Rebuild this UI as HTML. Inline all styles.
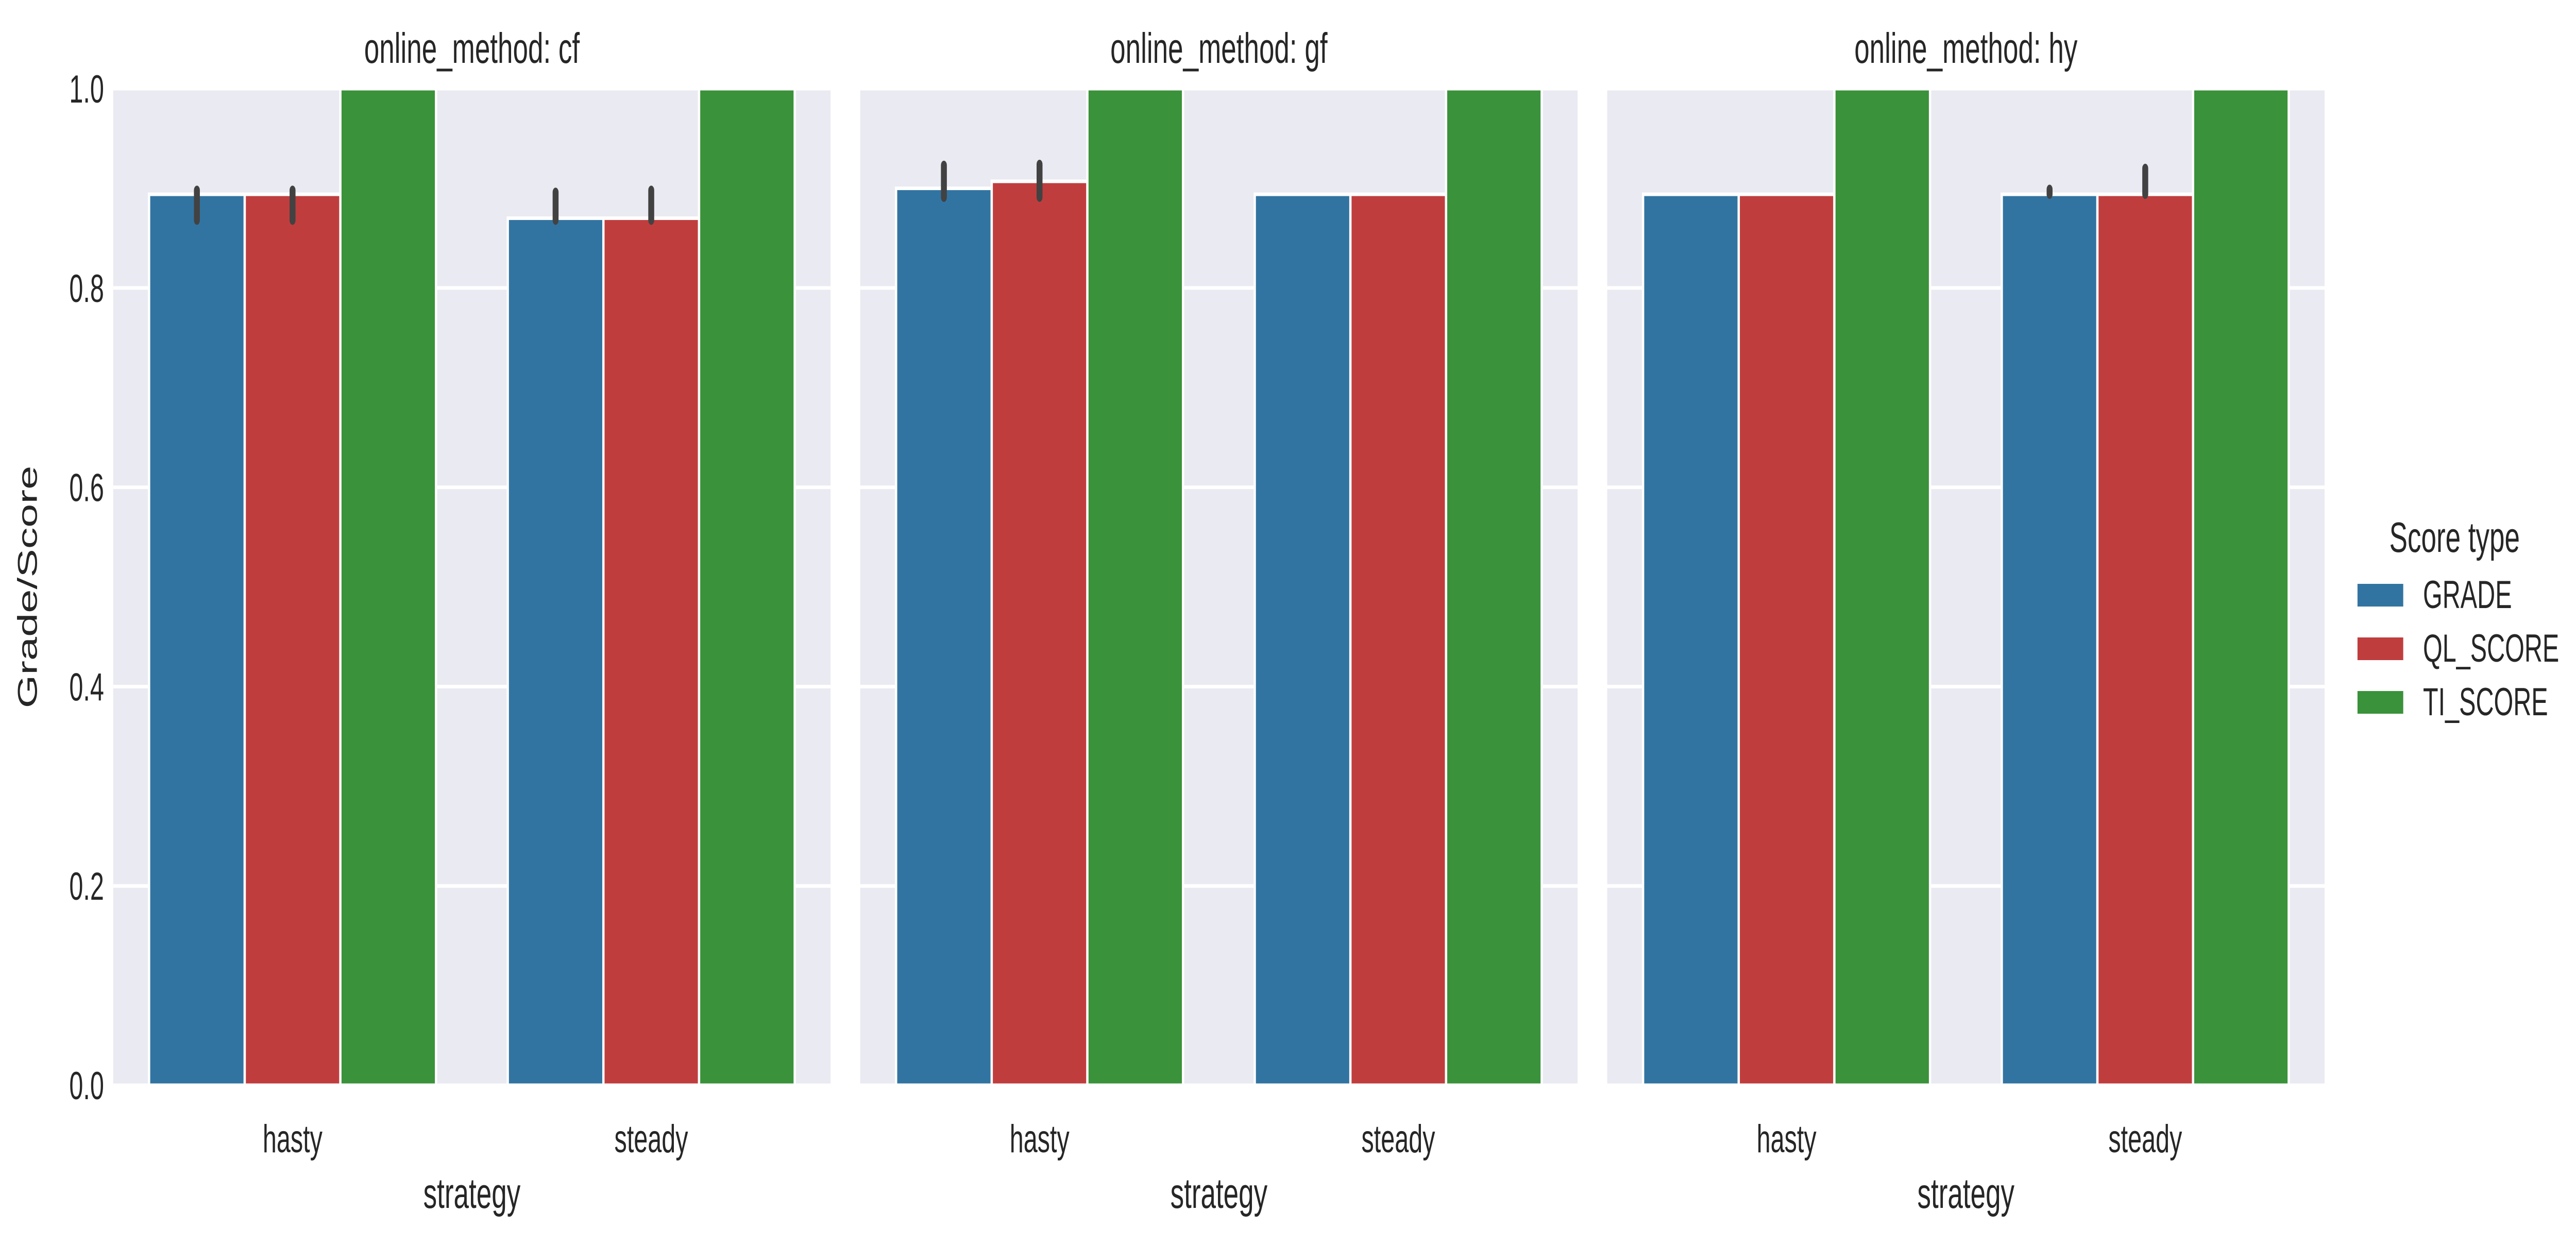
<!DOCTYPE html>
<html><head><meta charset="utf-8"><style>
html,body{margin:0;padding:0;background:#fff;width:100%;height:100%;overflow:hidden;}
svg{display:block;width:100vw;height:100vh;font-family:"Liberation Sans",Arial,sans-serif;}
</style></head><body>
<svg id="chart" viewBox="0 0 7828 2416" preserveAspectRatio="none" xmlns="http://www.w3.org/2000/svg"></svg>
<script>
const facets = ["cf", "gf", "hy"];
const categories = ["hasty", "steady"];
const seriesNames = ["GRADE", "QL_SCORE", "TI_SCORE"];
const seriesColors = ["#3274a1", "#c03d3e", "#3a923a"];
// values[facet][category]
const gradeValues = [[0.894, 0.870], [0.900, 0.894], [0.894, 0.894]];
const qlValues = [[0.894, 0.870], [0.907, 0.894], [0.894, 0.894]];
const tiValues = [[1.0, 1.0], [1.0, 1.0], [1.0, 1.0]];
// error bar [low, high] or null
const gradeErr = [[[0.868, 0.898], [0.868, 0.896]], [[0.891, 0.923], null], [null, [0.894, 0.899]]];
const qlErr = [[[0.868, 0.898], [0.868, 0.898]], [[0.891, 0.924], null], [null, [0.894, 0.920]]];
const tiErr = [[null, null], [null, null], [null, null]];
const yTicks = [0.0, 0.2, 0.4, 0.6, 0.8, 1.0];
const yTickLabels = ["0.0", "0.2", "0.4", "0.6", "0.8", "1.0"];

const svg = document.getElementById('chart');
const NS = "http://www.w3.org/2000/svg";
function mk(tag, attrs, parent) {
  const e = document.createElementNS(NS, tag);
  for (const k in attrs) e.setAttribute(k, attrs[k]);
  (parent || svg).appendChild(e);
  return e;
}
const panelX = [344, 2614, 4884], panelW = 2180;
const yTop = 172, yBot = 2106;
function yScale(v) { return yBot - v * (yBot - yTop); }
const allVals = [gradeValues, qlValues, tiValues];
const allErr = [gradeErr, qlErr, tiErr];

facets.forEach((f, fi) => {
  const px = panelX[fi];
  const g = mk('g', {});
  
  
  const bg = mk('rect', {x: px, y: yTop, width: panelW, height: yBot - yTop, fill: '#eaeaf2'}, g);
  
  
  yTicks.forEach((t, ti) => {
    const gl = mk('line', {x1: px, x2: px + panelW, y1: yScale(t), y2: yScale(t), stroke: '#fff', 'stroke-width': 7}, g);
    
    
    if (fi === 0) {
      const tl = mk('text', {x: px - 28, y: yScale(t) + 27, 'font-size': 76, 'text-anchor': 'end', fill: '#262626'}, svg);
      tl.textContent = yTickLabels[ti];
      
      
    }
  });
  const catW = panelW / categories.length;
  const barW = catW * 0.8 / seriesNames.length;
  categories.forEach((c, ci) => {
    const cx = px + catW * (ci + 0.5);
    seriesNames.forEach((s, si) => {
      const v = allVals[si][fi][ci];
      const x = cx - catW * 0.4 + si * barW;
      const r = mk('rect', {x: x, y: yScale(v), width: barW, height: yBot - yScale(v), fill: seriesColors[si], stroke: '#fff', 'stroke-width': 7}, g);
      
      
    });
    seriesNames.forEach((s, si) => {
      const e = allErr[si][fi][ci];
      if (!e) return;
      const x = cx - catW * 0.4 + (si + 0.5) * barW;
      const l = mk('line', {x1: x, x2: x, y1: yScale(e[0]), y2: yScale(e[1]), stroke: '#424242', 'stroke-width': 18, 'stroke-linecap': 'round'}, g);
      
      
    });
    const xl = mk('text', {x: cx, y: 2236, 'font-size': 76, 'text-anchor': 'middle', fill: '#262626'}, svg);
    xl.textContent = c;
    
    
  });
  const t = mk('text', {x: px + panelW / 2, y: 122, 'font-size': 83, 'text-anchor': 'middle', fill: '#262626'}, svg);
  t.textContent = 'online_method: ' + f;
  
  
  const xt = mk('text', {x: px + panelW / 2, y: 2344, 'font-size': 83, 'text-anchor': 'middle', fill: '#262626'}, svg);
  xt.textContent = 'strategy';
  
  
});
const yt = mk('text', {x: 0, y: 0, 'font-size': 83, 'text-anchor': 'middle', fill: '#262626', transform: 'translate(112,1139) rotate(-90)'});
yt.textContent = 'Grade/Score';



const lg = mk('g', {});


const lt = mk('text', {x: 7459, y: 1071, 'font-size': 83, 'text-anchor': 'middle', fill: '#262626'}, lg);
lt.textContent = 'Score type';


seriesNames.forEach((s, si) => {
  const y0 = 1133 + si * 104;
  const p = mk('rect', {x: 7164, y: y0, width: 139, height: 44, fill: seriesColors[si]}, lg);
  
  
  const tx = mk('text', {x: 7363, y: y0 + 47, 'font-size': 76, fill: '#262626'}, lg);
  tx.textContent = s;
  
  
});
</script>
</body></html>
